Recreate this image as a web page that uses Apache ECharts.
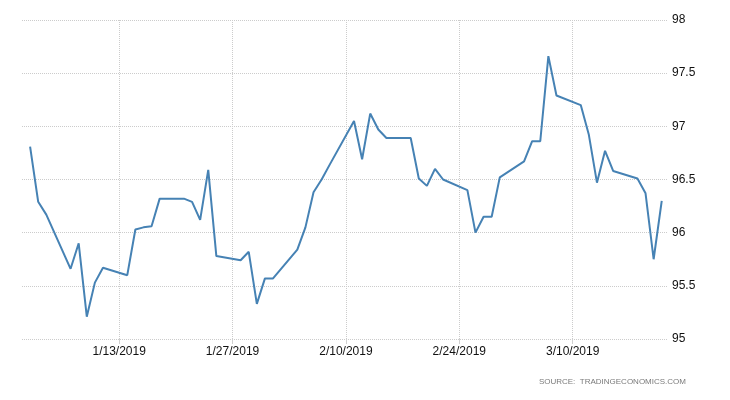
<!DOCTYPE html>
<html>
<head>
<meta charset="utf-8">
<script src="https://cdn.jsdelivr.net/npm/echarts@6/dist/echarts.min.js"></script>
<style>
html,body{margin:0;padding:0;background:#fff;}
#chart{width:730px;height:400px;}
</style>
</head>
<body>
<div id="chart"></div>
<script>
const dates = [
  '2019-01-02','2019-01-03','2019-01-04','2019-01-07','2019-01-08','2019-01-09','2019-01-10','2019-01-11',
  '2019-01-14','2019-01-15','2019-01-16','2019-01-17','2019-01-18','2019-01-21','2019-01-22','2019-01-23',
  '2019-01-24','2019-01-25','2019-01-28','2019-01-29','2019-01-30','2019-01-31','2019-02-01','2019-02-04',
  '2019-02-05','2019-02-06','2019-02-07','2019-02-08','2019-02-11','2019-02-12','2019-02-13','2019-02-14',
  '2019-02-15','2019-02-18','2019-02-19','2019-02-20','2019-02-21','2019-02-22','2019-02-25','2019-02-26',
  '2019-02-27','2019-02-28','2019-03-01','2019-03-04','2019-03-05','2019-03-06','2019-03-07','2019-03-08',
  '2019-03-11','2019-03-12','2019-03-13','2019-03-14','2019-03-15','2019-03-18','2019-03-19','2019-03-20',
  '2019-03-21'
];
const values = [
  96.81, 96.29, 96.17, 95.66, 95.90, 95.21, 95.53, 95.67,
  95.60, 96.03, 96.05, 96.06, 96.32, 96.32, 96.29, 96.12,
  96.59, 95.78, 95.74, 95.82, 95.33, 95.57, 95.57, 95.84,
  96.05, 96.38, 96.50, 96.64, 97.05, 96.69, 97.12, 96.97,
  96.89, 96.89, 96.51, 96.44, 96.60, 96.50, 96.40, 96.00,
  96.15, 96.15, 96.52, 96.67, 96.86, 96.86, 97.66, 97.29,
  97.20, 96.92, 96.47, 96.77, 96.58, 96.51, 96.37, 95.75,
  96.30
];
const tickDates = ['2019-01-13','2019-01-27','2019-02-10','2019-02-24','2019-03-10'];
const yTicks = [95, 95.5, 96, 96.5, 97, 97.5, 98];
const sourceText = 'SOURCE:  TRADINGECONOMICS.COM';

function ts(s) {
  const p = s.split('-').map(Number);
  return new Date(p[0], p[1] - 1, p[2]).getTime();
}
const DAY = 86400000;
const seriesData = dates.map((d, i) => [ts(d), values[i]]);
const tickTs = tickDates.map(ts);

const chart = echarts.init(document.getElementById('chart'), null, {renderer: 'canvas'});
chart.setOption({
  animation: false,
  backgroundColor: '#fff',
  grid: {left: 22, right: 63, top: 20, bottom: 61, containLabel: false},
  xAxis: {
    type: 'value',
    scale: true,
    min: ts('2019-01-01'),
    max: ts('2019-03-21') + 0.65 * DAY,
    axisLine: {show: false},
    axisTick: {show: true, length: 5, lineStyle: {color: '#d0d0d0'}, customValues: tickTs},
    axisLabel: {
      customValues: tickTs,
      margin: 7,
      color: '#111',
      fontFamily: 'Liberation Sans, Arial, sans-serif',
      fontSize: 12,
      formatter: function (v) {
        const d = new Date(v);
        return (d.getMonth() + 1) + '/' + d.getDate() + '/' + d.getFullYear();
      }
    },
    splitLine: {show: true, lineStyle: {color: '#cccccc', type: [1, 1], width: 1}}
  },
  yAxis: {
    type: 'value',
    position: 'right',
    min: yTicks[0],
    max: yTicks[yTicks.length - 1],
    interval: 0.5,
    axisLine: {show: false},
    axisTick: {show: false},
    axisLabel: {
      margin: 5,
      color: '#111',
      fontFamily: 'Liberation Sans, Arial, sans-serif',
      fontSize: 12,
      formatter: function (v) { return String(v); }
    },
    splitLine: {show: true, lineStyle: {color: '#cccccc', type: [1, 1], width: 1}}
  },
  graphic: [{
    type: 'text',
    right: 44,
    top: 378,
    style: {
      text: sourceText,
      fill: '#7a7a7a',
      font: '8px "Liberation Sans", Arial, sans-serif'
    }
  }],
  series: [{
    type: 'line',
    data: seriesData,
    showSymbol: false,
    symbol: 'none',
    lineStyle: {color: '#4682b4', width: 2},
    itemStyle: {color: '#4682b4'}
  }]
});
</script>
</body>
</html>
